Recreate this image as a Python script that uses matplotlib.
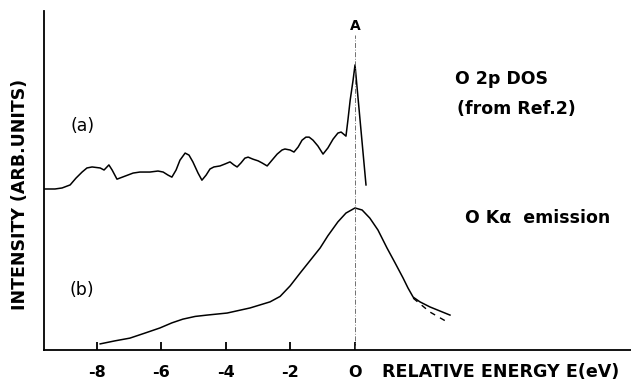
import numpy as np
import matplotlib
matplotlib.use("Agg")
import matplotlib.pyplot as plt

# (a) O 2p DOS (from Ref.2)
dos_e = [-9.63, -9.29, -9.07, -8.82, -8.64, -8.45, -8.30, -8.14, -7.89, -7.77,
         -7.71, -7.62, -7.52, -7.37, -7.12, -6.87, -6.66, -6.35, -6.10, -5.94,
         -5.79, -5.67, -5.54, -5.42, -5.26, -5.14, -5.02, -4.86, -4.74, -4.61,
         -4.49, -4.37, -4.18, -4.02, -3.87, -3.75, -3.65, -3.53, -3.41, -3.31,
         -3.16, -3.00, -2.88, -2.72, -2.57, -2.41, -2.26, -2.17, -2.01, -1.89,
         -1.76, -1.64, -1.52, -1.42, -1.30, -1.15, -0.99, -0.84, -0.68, -0.53,
         -0.43, -0.28, -0.22, -0.15, -0.06, 0.0, 0.34]
dos_i = [0.475, 0.475, 0.478, 0.487, 0.507, 0.525, 0.537, 0.540, 0.537, 0.531,
         0.537, 0.546, 0.531, 0.504, 0.513, 0.522, 0.525, 0.525, 0.528, 0.525,
         0.516, 0.510, 0.531, 0.560, 0.581, 0.575, 0.555, 0.522, 0.501, 0.516,
         0.534, 0.540, 0.543, 0.549, 0.555, 0.546, 0.540, 0.552, 0.566, 0.569,
         0.563, 0.558, 0.552, 0.543, 0.560, 0.578, 0.590, 0.593, 0.590, 0.584,
         0.599, 0.619, 0.628, 0.628, 0.619, 0.602, 0.578, 0.596, 0.622, 0.640,
         0.643, 0.631, 0.678, 0.737, 0.796, 0.841, 0.487]

# (b) O K-alpha emission
em_e = [-7.89, -7.43, -6.97, -6.50, -6.04, -5.67, -5.33, -4.95, -4.58, -3.96,
        -3.25, -2.63, -2.32, -2.01, -1.70, -1.39, -1.08, -0.84, -0.53, -0.28,
        0.0, 0.22, 0.46, 0.71, 0.99, 1.24, 1.49, 1.64, 1.80, 2.01, 2.32, 2.63, 2.94]
em_i = [0.018, 0.027, 0.035, 0.050, 0.065, 0.080, 0.091, 0.099, 0.103, 0.109,
        0.124, 0.142, 0.158, 0.189, 0.227, 0.264, 0.301, 0.337, 0.378, 0.404,
        0.419, 0.413, 0.389, 0.354, 0.301, 0.257, 0.212, 0.183, 0.156, 0.142,
        0.127, 0.115, 0.103]
tail_e = [1.80, 2.32, 2.85]
tail_i = [0.153, 0.112, 0.083]

xticks = [-8, -6, -4, -2, 0]
xticklabels = ["-8", "-6", "-4", "-2", "O"]

plt.rcParams['font.family'] = ['DejaVu Sans']

fig = plt.figure(figsize=(6.31, 3.81), dpi=100)
ax = fig.add_axes([0.0697, 0.0814, 0.9303, 0.8896])

ax.plot(dos_e, dos_i, color='black', lw=1.1, solid_joinstyle='round')
ax.plot(em_e, em_i, color='black', lw=1.1, solid_joinstyle='round')
ax.plot(tail_e, tail_i, color='black', lw=1.0, linestyle=(0, (4, 4)))

# peak marker line A
ax.plot([0, 0], [0, 0.93], color='0.35', lw=0.6, linestyle=(0, (6, 2, 1, 2)))
ax.text(0, 0.955, "A", ha='center', va='center', fontsize=10, fontweight='bold')

ax.set_xlim(-9.63, 8.545)
ax.set_ylim(0, 1)

for side in ['top', 'right']:
    ax.spines[side].set_visible(False)
for side in ['left', 'bottom']:
    ax.spines[side].set_linewidth(1.3)

ax.set_yticks([])
ax.set_xticks(xticks)
ax.set_xticklabels(xticklabels, fontsize=11.5, fontweight='bold')
ax.tick_params(axis='x', direction='in', length=6, width=1.3, pad=11)

ax.text(0.576, -0.066, "RELATIVE ENERGY E(eV)", transform=ax.transAxes,
        ha='left', va='center', fontsize=12.6, fontweight='bold')
fig.text(0.032, 0.49, "INTENSITY (ARB.UNITS)", rotation=90, ha='center', va='center',
         fontsize=12.5, fontweight='bold')

ax.text(3.1, 0.8, "O 2p DOS", ha='left', va='center', fontsize=12.5, fontweight='bold')
ax.text(3.15, 0.712, "(from Ref.2)", ha='left', va='center', fontsize=12.5, fontweight='bold')
ax.text(3.4, 0.39, "O K\u03b1  emission", ha='left', va='center', fontsize=12.5, fontweight='bold')
ax.text(-8.8, 0.66, "(a)", ha='left', va='center', fontsize=12.5)
ax.text(-8.85, 0.177, "(b)", ha='left', va='center', fontsize=12.5)

fig.savefig("out.png", dpi=100)
